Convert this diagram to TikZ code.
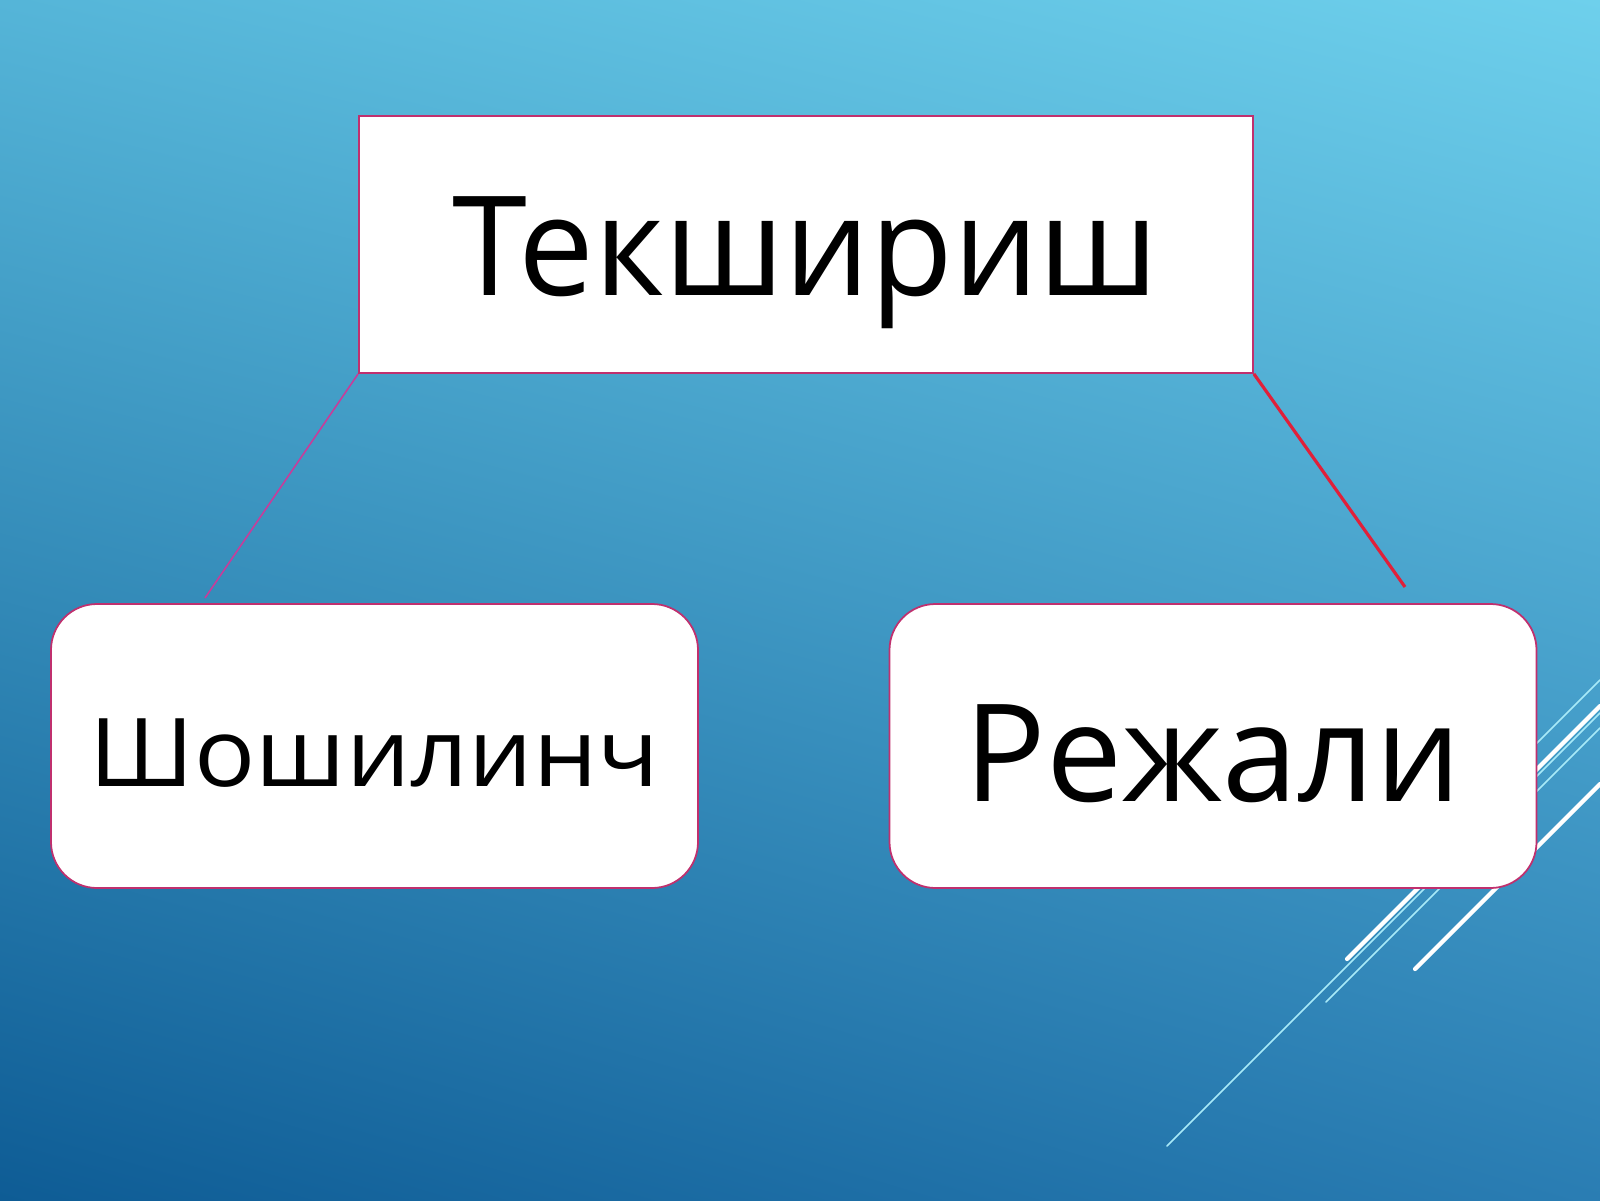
\documentclass[tikz,border=0pt]{standalone}
\usepackage{fontspec}
\setmainfont{Open Sans}
\usepackage{tikz}
\usetikzlibrary{shadings}

\definecolor{bgul}{HTML}{55B5D8}
\definecolor{bgur}{HTML}{6ED0EC}
\definecolor{bgll}{HTML}{0E5C95}
\definecolor{bglr}{HTML}{2A7DB3}
\definecolor{boxedge}{HTML}{C0306E}
\definecolor{leftlink}{HTML}{C83C9A}
\definecolor{rightlink}{HTML}{E0203A}
\definecolor{streak}{HTML}{A8EAF8}

\begin{document}
\begin{tikzpicture}[
    topbox/.style={draw=boxedge,line width=0.5pt,fill=white,inner sep=0pt,minimum width=8.94cm,minimum height=2.57cm,text depth=0pt},
    roundbox/.style={topbox,rounded corners=0.46cm,minimum width=6.47cm,minimum height=2.84cm},
    thinstreak/.style={draw=streak,line width=0.45pt,line cap=round},
    thickstreak/.style={draw=white,line width=1.2pt,line cap=round}]
    \useasboundingbox (0,0) rectangle (16,12);
    \shade[upper left=bgul,upper right=bgur,lower left=bgll,lower right=bglr] (0,0) rectangle (16,12);

    \foreach [count=\i] \a/\b/\w in {{(15,4.2)}/{(16,5.2)}/thinstreak,{(13.47,2.41)}/{(16,4.94)}/thickstreak,{(11.67,0.54)}/{(16,4.87)}/thinstreak,{(13.26,1.98)}/{(16,4.72)}/thinstreak,{(14.15,2.31)}/{(16,4.16)}/thickstreak}{
        \draw[\w] \a -- \b;
    }

    \node[topbox,text height=1.01cm,font=\fontsize{39.4}{47}\selectfont\addfontfeature{FakeStretch=0.976}] (check) at (8.06,9.555) {Текшириш};
    \node[roundbox,text height=0.80cm,font=\fontsize{27}{32}\selectfont\addfontfeature{FakeStretch=1.07}] (fast) at (3.745,4.54) {Шошилинч};
    \node[roundbox,text height=1.10cm,font=\fontsize{38.6}{46}\selectfont] (plan) at (12.13,4.54) {Режали};

    \coordinate (fastend) at (2.05,6.02);
    \coordinate (planend) at (14.05,6.13);
    \draw[leftlink,line width=0.45pt] (check.south west) -- (fastend);
    \draw[rightlink,line width=0.9pt] (check.south east) -- (planend);
\end{tikzpicture}
\end{document}
